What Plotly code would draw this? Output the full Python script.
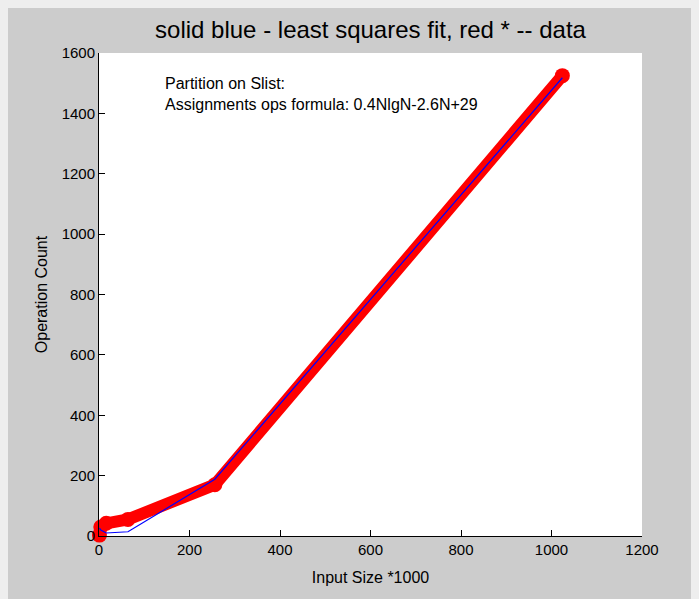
import plotly.graph_objects as go

# Data
input_size = [1, 4, 16, 64, 256, 1024]
data_ops = [3, 30, 42, 55, 170, 1525]
fit_ops = [26, 20, 10, 14, 188, 1518]

x_ticks = [0, 200, 400, 600, 800, 1000, 1200]
y_ticks = [0, 200, 400, 600, 800, 1000, 1200, 1400, 1600]

# page body has an 8px margin
W, H = 691, 591
L, R, T, B = 91, 57, 45, 63
pw, ph = W - L - R, H - T - B

fig = go.Figure()
fig.add_trace(go.Scatter(
    x=input_size, y=data_ops, mode="lines+markers",
    line=dict(color="#ff0000", width=12),
    marker=dict(color="#ff0000", size=15, symbol="circle"),
    cliponaxis=False, showlegend=False))
fig.add_trace(go.Scatter(
    x=input_size, y=fit_ops, mode="lines",
    line=dict(color="#0000ff", width=1.2),
    cliponaxis=False, showlegend=False))

font = "Liberation Sans, Arial, sans-serif"
fig.update_layout(
    width=W, height=H,
    margin=dict(l=L, r=R, t=T, b=B, pad=0),
    paper_bgcolor="#cccccc",
    plot_bgcolor="#ffffff",
    font=dict(family=font, size=14, color="#000000"),
    title=dict(text="solid blue - least squares fit, red * -- data",
               x=(L + pw / 2) / W, xanchor="center",
               y=1 - 22 / H, yanchor="middle",
               font=dict(size=24, family=font, color="#000000")),
    xaxis=dict(range=[0, 1200], tickvals=x_ticks, ticks="inside", ticklen=6,
               tickcolor="#000000", showline=True, linecolor="#000000", linewidth=1,
               showgrid=False, zeroline=False, mirror=False, automargin=False,
               tickfont=dict(size=15),
               title=dict(text="Input Size *1000", standoff=14, font=dict(size=16))),
    yaxis=dict(range=[0, 1600], tickvals=y_ticks, ticks="inside", ticklen=6,
               tickcolor="#000000", showline=True, linecolor="#000000", linewidth=1,
               showgrid=False, zeroline=False, mirror=False, automargin=False,
               tickfont=dict(size=15),
               title=dict(text="Operation Count", standoff=10, font=dict(size=16))),
    annotations=[dict(text="Partition on Slist:<br>Assignments ops formula: 0.4NlgN-2.6N+29",
                      xref="paper", yref="paper",
                      x=(163 - 8 - L) / pw, y=(ph - (73 - 8 - T)) / ph,
                      xanchor="left", yanchor="top", align="left", showarrow=False,
                      font=dict(size=16, family=font, color="#000000"))],
)

fig.write_html("out.html",
               post_script="document.body.style.background='#eeeeee';")
